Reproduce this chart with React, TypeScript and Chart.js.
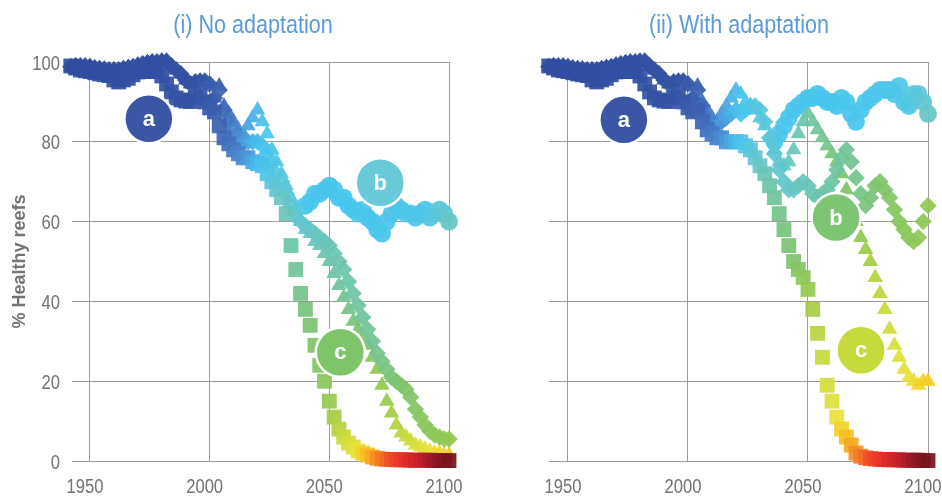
import React, { useEffect, useRef } from 'react';
import { Chart, registerables } from 'chart.js';

Chart.register(...registerables);

// ---------------- DATA ----------------
const X_TICKS = [1950, 2000, 2050, 2100];
const Y_TICKS = [0, 20, 40, 60, 80, 100];

// Shared historical period (both panels)
const HIST_YEARS = [1942, 1944, 1946, 1948, 1950, 1952, 1954, 1956, 1958, 1960, 1962, 1964, 1966, 1968, 1970, 1972, 1974, 1976, 1978, 1980, 1982, 1984, 1986, 1988, 1990, 1992, 1994, 1996, 1998, 2000, 2002];
// lower edge of the band (squares)
const HIST_LOW = [99, 98.5, 98, 97.8, 97.6, 97.3, 97, 96.8, 96.6, 95.5, 95, 95.5, 95.9, 96.8, 97.5, 97.6, 97.6, 97.6, 97.6, 96.5, 94.5, 92.5, 91, 90.5, 90.2, 90.1, 91, 91.6, 90, 88.5, 87.5];
// upper edge of the band (triangles, diamonds)
const HIST_HIGH = [98.8, 99, 99, 99, 98.8, 98.5, 98.3, 98.2, 98, 98, 98, 98.3, 98.6, 98.8, 99.2, 99.5, 99.8, 100, 100, 100.2, 100.2, 99, 98, 97, 95.5, 94.5, 95, 95.2, 95.2, 94.5, 91];

const FUT_YEARS = [2004, 2006, 2008, 2010, 2012, 2014, 2016, 2018, 2020, 2022, 2024, 2026, 2028, 2030, 2032, 2034, 2036, 2038, 2040, 2042, 2044, 2046, 2048, 2050, 2052, 2054, 2056, 2058, 2060, 2062, 2064, 2066, 2068, 2070, 2072, 2074, 2076, 2078, 2080, 2082, 2084, 2086, 2088, 2090, 2092, 2094, 2096, 2098, 2100, 2102];

// (i) No adaptation
const SQ_NOADAPT = [84, 81, 79.5, 78, 77, 76, 76, 75, 74.5, 74, 72, 70, 68, 66, 62, 54, 48, 42, 38, 34, 29, 24, 20, 15, 11, 8, 6, 4.5, 3.5, 2.5, 2, 1.5, 1, 0.7, 0.5, 0.4, 0.4, 0.3, 0.3, 0.3, 0.2, 0.2, 0.2, 0.2, 0.2, 0.1, 0.1, 0.1, 0.1, 0.1];
const TRI_NOADAPT = [94, 89, 87, 85, 83, 82, 84, 86, 88, 85, 82, 78, 75, 72, 69, 66, 63, 60, 58, 57, 55, 54, 52, 50, 47, 44, 41, 38, 35, 33, 31, 29, 26, 23, 19, 15, 12, 9, 7, 6, 5, 4, 3.5, 3, 2.5, 2, 2, 1.5, 1.5, 1];
const DIA_NOADAPT = [93, 88, 85, 83, 81, 80, 80, 80, 80, 79, 77, 75, 72, 70, 67, 64, 62, 60, 59, 58, 57, 56, 55, 54, 52, 50, 48, 45, 42, 39, 36, 33, 30, 27, 25, 23, 21, 20, 19, 18, 16, 13, 11, 9, 7.5, 6.5, 6, 5.5, 5.5, 5];
const CIR_NOADAPT = [null, null, null, null, null, null, null, null, null, null, null, null, null, null, null, null, null, null, 64, 65, 67, 67, 68, 69, 68, 66, 66, 64, 63, 62, 63, 61, 60, 58, 57, 60, 62, 64, 63, 62, 62, 61, 62, 63, 61, 62, 63, 62, 60, null];

// (ii) With adaptation
const SQ_ADAPT = [88, 85, 83, 82, 81, 81, 80, 80, 80, 80, 79, 78, 76, 74, 72, 69, 66, 62, 58, 54, 50, 48, 46, 43, 38, 32, 26, 19, 15, 11, 8, 6, 4, 2, 1.2, 0.8, 0.6, 0.5, 0.4, 0.4, 0.3, 0.3, 0.3, 0.2, 0.2, 0.2, 0.2, 0.1, 0.1, 0.1];
const TRI_ADAPT = [94, 90, 88, 86, 85, 87, 89, 91, 93, 92, 90, 89, 88, 86, 84, 81, 78, 75, 74, 75, 78, 82, 85, 87, 85, 83, 81, 79, 77, 75, 72, 68, 64, 60, 56, 53, 50, 46, 42, 38, 33, 29, 26, 23, 21, 20, 19, 20, 20, 21];
const DIA_ADAPT = [93, 89, 86, 85, 84, 85, 86, 87, 88, 87, 88, 89, 89, 88, 85, 81, 77, 73, 70, 68, 68, 69, 70, 69, 67, 66, 67, 68, 70, 73, 76, 78, 75, 71, 67, 64, 66, 69, 70, 68, 66, 63, 60, 58, 56, 55, 56, 60, 64, 68];
const CIR_ADAPT = [null, null, null, null, null, null, null, null, null, null, null, null, null, null, null, null, 80, 82, 84, 86, 88, 89, 90, 91, 91, 92, 91, 90, 90, 89, 91, 90, 87, 85, 88, 90, 91, 92, 93, 93, 93, 92, 94, 90, 89, 92, 92, 90, 87, null];

// scenario labels
const LABELS = ['a', 'b', 'c'];
const LABEL_YEAR_NOADAPT = [1974.6, 2071.3, 2054.6];
const LABEL_VAL_NOADAPT = [85.75, 69.75, 27.25];
const LABEL_YEAR_ADAPT = [1973.3, 2061.7, 2072.1];
const LABEL_VAL_ADAPT = [85.5, 61, 27.75];

// ---------------- STYLE ----------------
const SANS = '"Liberation Sans", Arial, sans-serif';
const CONDENSE = 0.83;
const AXIS_TEXT = '#737373';
const GRID = '#9c9c9c';
const TITLE_BLUE = '#5B9BD5';

const RAMP: [number, string][] = [
  [0.0, '#24408F'], [0.06, '#2E4B9E'], [0.1, '#3553A4'], [0.16, '#3D63B2'], [0.22, '#4577C3'],
  [0.28, '#4A97D8'], [0.33, '#48B6E9'], [0.37, '#47C6EF'], [0.42, '#58C7DE'], [0.47, '#66C6C9'],
  [0.52, '#6BC5AE'], [0.57, '#72C494'], [0.62, '#7AC476'], [0.67, '#86C65E'], [0.72, '#9ACA4A'],
  [0.77, '#B7D43D'], [0.82, '#D3DD3B'], [0.86, '#E8E23B'], [0.89, '#F5CC22'], [0.92, '#F7A21F'],
  [0.945, '#F37028'], [0.965, '#EC3329'], [0.98, '#C8202A'], [0.99, '#9A1A26'], [1.0, '#6E121C'],
];
const SQ_KNOTS: [number, number][] = [[1942, 0.07], [1996, 0.1], [2004, 0.15], [2010, 0.22], [2016, 0.28], [2022, 0.36], [2028, 0.45], [2034, 0.53], [2040, 0.61], [2046, 0.66], [2050, 0.71], [2054, 0.77], [2058, 0.82], [2062, 0.86], [2066, 0.9], [2070, 0.93], [2076, 0.955], [2086, 0.975], [2094, 0.99], [2102, 1]];
const TRI_KNOTS: [number, number][] = [[1942, 0.07], [1996, 0.1], [2004, 0.16], [2010, 0.24], [2016, 0.3], [2022, 0.36], [2030, 0.42], [2040, 0.47], [2048, 0.52], [2056, 0.57], [2062, 0.62], [2068, 0.67], [2074, 0.72], [2078, 0.76], [2082, 0.8], [2088, 0.84], [2094, 0.87], [2102, 0.895]];
const DIA_KNOTS: [number, number][] = [[1942, 0.07], [1996, 0.1], [2004, 0.16], [2010, 0.24], [2016, 0.3], [2022, 0.36], [2030, 0.42], [2040, 0.46], [2050, 0.5], [2060, 0.54], [2070, 0.58], [2080, 0.64], [2090, 0.68], [2102, 0.7]];
const CIR_KNOTS: [number, number][] = [[2036, 0.38], [2060, 0.37], [2090, 0.39], [2098, 0.44], [2102, 0.52]];

function hexRgb(h: string) {
  const n = parseInt(h.slice(1), 16);
  return [(n >> 16) & 255, (n >> 8) & 255, n & 255];
}
function rampColor(s: number, alpha = 0.93) {
  s = Math.max(0, Math.min(1, s));
  for (let i = 1; i < RAMP.length; i++) {
    if (s <= RAMP[i][0]) {
      const [s0, c0] = RAMP[i - 1];
      const [s1, c1] = RAMP[i];
      const t = (s - s0) / (s1 - s0 || 1);
      const a = hexRgb(c0), b = hexRgb(c1);
      const c = a.map((v, k) => Math.round(v + (b[k] - v) * t));
      return `rgba(${c[0]},${c[1]},${c[2]},${alpha})`;
    }
  }
  return RAMP[RAMP.length - 1][1];
}
function knotAt(knots: [number, number][], year: number) {
  if (year <= knots[0][0]) return knots[0][1];
  for (let i = 1; i < knots.length; i++) {
    if (year <= knots[i][0]) {
      const [y0, v0] = knots[i - 1];
      const [y1, v1] = knots[i];
      return v0 + (v1 - v0) * (year - y0) / (y1 - y0);
    }
  }
  return knots[knots.length - 1][1];
}

type Pt = { x: number; y: number };
function toPoints(years: number[], values: (number | null)[]): Pt[] {
  const out: Pt[] = [];
  years.forEach((yr, i) => {
    const v = values[i];
    if (v !== null && v !== undefined) out.push({ x: yr, y: v });
  });
  return out;
}

type PanelSpec = {
  title: string;
  titleX: number;
  xMin: number;
  yAxisWidth: number;
  rightPad: number;
  showY: boolean;
  sq: (number | null)[];
  tri: (number | null)[];
  dia: (number | null)[];
  cir: (number | null)[];
  labelYears: number[];
  labelVals: number[];
  labelColors: string[];
};

function drawCondensed(ctx: CanvasRenderingContext2D, text: string, x: number, y: number, align: CanvasTextAlign) {
  ctx.save();
  ctx.translate(x, y);
  ctx.scale(CONDENSE, 1);
  ctx.textAlign = align;
  ctx.textBaseline = 'alphabetic';
  ctx.fillText(text, 0, 0);
  ctx.restore();
}

const textPlugin = {
  id: 'panelText',
  afterDraw(chart: any, _args: any, opts: any) {
    const ctx: CanvasRenderingContext2D = chart.ctx;
    const area = chart.chartArea;
    const xs = chart.scales.x;
    const ys = chart.scales.y;
    ctx.save();
    // panel title
    ctx.font = `26px ${SANS}`;
    ctx.fillStyle = TITLE_BLUE;
    drawCondensed(ctx, opts.text, opts.x, 33, 'center');
    // tick labels
    ctx.font = `20px ${SANS}`;
    ctx.fillStyle = AXIS_TEXT;
    X_TICKS.forEach((v) => drawCondensed(ctx, String(v), xs.getPixelForValue(v) - 5, area.bottom + 32, 'center'));
    if (opts.showY) {
      Y_TICKS.forEach((v) => drawCondensed(ctx, String(v), area.left - 12, ys.getPixelForValue(v) + 7.5, 'right'));
    }
    ctx.restore();
  },
};

const letterPlugin = {
  id: 'letterLabels',
  afterDatasetsDraw(chart: any) {
    const meta = chart.getDatasetMeta(0);
    const ctx = chart.ctx;
    ctx.save();
    ctx.font = `bold 22px ${SANS}`;
    ctx.fillStyle = '#ffffff';
    ctx.textAlign = 'center';
    ctx.textBaseline = 'middle';
    meta.data.forEach((el: any, i: number) => {
      ctx.fillText(LABELS[i], el.x, el.y + 1);
    });
    ctx.restore();
  },
};

function seriesDataset(points: Pt[], style: string, radius: number, knots: [number, number][]) {
  return {
    data: points,
    pointStyle: style,
    pointRadius: radius,
    pointHoverRadius: radius,
    pointBorderWidth: 0,
    pointBackgroundColor: points.map((p) => rampColor(knotAt(knots, p.x))),
    showLine: false,
    clip: false,
  };
}

function makeConfig(p: PanelSpec): any {
  const labelPts = toPoints(p.labelYears, p.labelVals);
  return {
    type: 'scatter',
    data: {
      datasets: [
        {
          data: labelPts,
          pointStyle: 'circle',
          pointRadius: 24.5,
          pointHoverRadius: 24.5,
          pointBackgroundColor: p.labelColors,
          pointBorderColor: '#ffffff',
          pointBorderWidth: 2.5,
          showLine: false,
          clip: false,
        },
        seriesDataset([...toPoints(HIST_YEARS, HIST_LOW), ...toPoints(FUT_YEARS, p.sq)], 'rect', 10.5, SQ_KNOTS),
        seriesDataset([...toPoints(HIST_YEARS, HIST_HIGH), ...toPoints(FUT_YEARS, p.dia)], 'rectRot', 8.7, DIA_KNOTS),
        seriesDataset([...toPoints(HIST_YEARS, HIST_HIGH), ...toPoints(FUT_YEARS, p.tri)], 'triangle', 9, TRI_KNOTS),
        seriesDataset(toPoints(FUT_YEARS, p.cir), 'circle', 9, CIR_KNOTS),
      ],
    },
    options: {
      responsive: false,
      animation: false,
      events: [],
      layout: { autoPadding: false, padding: { left: 0, right: p.rightPad, top: 62, bottom: 0 } },
      plugins: {
        legend: { display: false },
        tooltip: { enabled: false },
        panelText: { text: p.title, x: p.titleX, showY: p.showY },
      },
      scales: {
        x: {
          type: 'linear',
          min: p.xMin,
          max: 2100,
          afterFit: (s: any) => { s.height = 36; },
          afterBuildTicks: (s: any) => { s.ticks = X_TICKS.map((v) => ({ value: v })); },
          ticks: { display: false },
          grid: { color: GRID, lineWidth: 1, drawTicks: false },
          border: { display: false },
        },
        y: {
          min: 0,
          max: 100,
          afterFit: (s: any) => { s.width = p.yAxisWidth; },
          afterBuildTicks: (s: any) => { s.ticks = Y_TICKS.map((v) => ({ value: v })); },
          ticks: { display: false },
          grid: { color: GRID, lineWidth: 1, drawTicks: false },
          border: { display: false },
          title: {
            display: p.showY,
            text: '% Healthy reefs',
            color: AXIS_TEXT,
            font: { family: SANS, size: 18, weight: 'bold' },
            padding: { top: 9, bottom: 0 },
          },
        },
      },
    },
    plugins: [textPlugin, letterPlugin],
  };
}

function Panel({ spec, left, width }: { spec: PanelSpec; left: number; width: number }) {
  const ref = useRef<HTMLCanvasElement | null>(null);
  useEffect(() => {
    if (!ref.current) return;
    const chart = new Chart(ref.current, makeConfig(spec));
    return () => chart.destroy();
  }, []);
  return (
    <canvas
      ref={ref}
      width={width}
      height={497}
      style={{ position: 'absolute', left, top: 0, width, height: 497, display: 'block' }}
    />
  );
}

const LEFT_SPEC: PanelSpec = {
  title: '(i) No adaptation',
  titleX: 253,
  xMin: 1942.5,
  yAxisWidth: 72,
  rightPad: 22,
  showY: true,
  sq: SQ_NOADAPT,
  tri: TRI_NOADAPT,
  dia: DIA_NOADAPT,
  cir: CIR_NOADAPT,
  labelYears: LABEL_YEAR_NOADAPT,
  labelVals: LABEL_VAL_NOADAPT,
  labelColors: ['#3A56A5', '#68C9D8', '#80C46A'],
};

const RIGHT_SPEC: PanelSpec = {
  title: '(ii) With adaptation',
  titleX: 268,
  xMin: 1942.1,
  yAxisWidth: 78,
  rightPad: 14,
  showY: false,
  sq: SQ_ADAPT,
  tri: TRI_ADAPT,
  dia: DIA_ADAPT,
  cir: CIR_ADAPT,
  labelYears: LABEL_YEAR_ADAPT,
  labelVals: LABEL_VAL_ADAPT,
  labelColors: ['#3A56A5', '#7DC573', '#C7DA3C'],
};

export default function App() {
  return (
    <div style={{ position: 'fixed', left: 0, top: 0, width: 942, height: 497, background: '#ffffff', overflow: 'hidden' }}>
      <Panel spec={LEFT_SPEC} left={0} width={471} />
      <Panel spec={RIGHT_SPEC} left={471} width={471} />
    </div>
  );
}
